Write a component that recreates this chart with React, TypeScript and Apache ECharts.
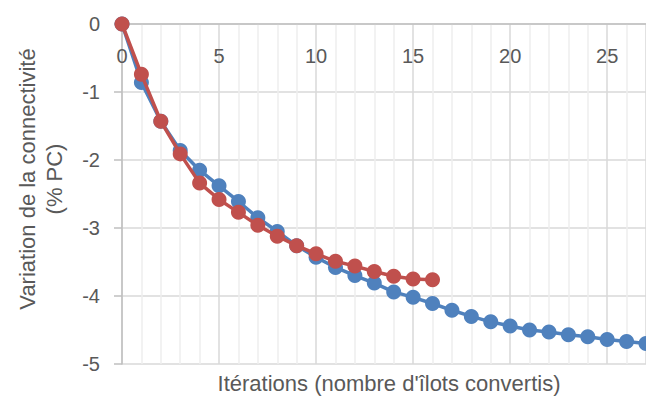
import React, { useEffect, useRef } from "react";
import * as echarts from "echarts";

const iterations = Array.from({ length: 28 }, (_, i) => i);
const seriesBlue = [
  0, -0.86, -1.43, -1.86, -2.15, -2.38, -2.61, -2.85, -3.05, -3.26,
  -3.43, -3.58, -3.7, -3.81, -3.94, -4.02, -4.11, -4.21, -4.3, -4.38,
  -4.44, -4.5, -4.53, -4.57, -4.6, -4.64, -4.67, -4.7,
];
const seriesRed = [
  0, -0.74, -1.43, -1.91, -2.34, -2.58, -2.77, -2.96, -3.12, -3.26,
  -3.38, -3.49, -3.56, -3.64, -3.71, -3.75, -3.76,
];
const xTitle = "Itérations (nombre d'îlots convertis)";
const yTitle = "Variation de la connectivité\n(% PC)";

const FONT = "'Liberation Sans', Arial, sans-serif";
const GREY = "#595959";

export default function App() {
  const ref = useRef<HTMLDivElement>(null);
  useEffect(() => {
    document.body.style.margin = "0";
    const chart = echarts.init(ref.current!, null, { renderer: "svg" });
    const toPairs = (arr: number[]) => arr.map((v, i) => [iterations[i], v]);
    chart.setOption({
      animation: false,
      grid: { left: 122, right: -5, top: 24, bottom: 36, containLabel: false },
      xAxis: {
        type: "value",
        position: "top",
        min: 0,
        max: 27,
        interval: 5,
        axisLine: { onZero: false, lineStyle: { color: "#bfbfbf", width: 1.5 } },
        axisTick: { show: false },
        axisLabel: {
          inside: true,
          color: GREY,
          fontFamily: FONT,
          fontSize: 20,
          margin: 22,
          showMaxLabel: false,
        },
        splitLine: { show: true, lineStyle: { color: "#d9d9d9", width: 1.5 } },
        minorTick: { show: false, splitNumber: 5 },
        minorSplitLine: { show: true, lineStyle: { color: "#eeeeee", width: 1.5 } },
      },
      yAxis: {
        type: "value",
        min: -5,
        max: 0,
        interval: 1,
        axisLine: { show: true, lineStyle: { color: "#bfbfbf", width: 1.5 } },
        axisTick: { show: true, length: 8, lineStyle: { color: "#bfbfbf", width: 1.5 } },
        axisLabel: { color: GREY, fontFamily: FONT, fontSize: 20, margin: 22 },
        splitLine: { show: true, lineStyle: { color: "#d9d9d9", width: 1.5 } },
      },
      graphic: [
        {
          type: "text",
          x: 389,
          y: 383,
          style: {
            text: xTitle,
            fill: GREY,
            font: `22px ${FONT}`,
            align: "center",
            verticalAlign: "middle",
          },
        },
        {
          type: "text",
          x: 41,
          y: 179,
          rotation: Math.PI / 2,
          style: {
            text: yTitle,
            fill: GREY,
            font: `22px ${FONT}`,
            align: "center",
            verticalAlign: "middle",
            lineHeight: 27,
          },
        },
      ],
      series: [
        {
          type: "line",
          data: toPairs(seriesBlue),
          symbol: "circle",
          symbolSize: 15,
          itemStyle: { color: "#4f81bd" },
          lineStyle: { color: "#4f81bd", width: 3.5 },
          clip: false,
          z: 2,
        },
        {
          type: "line",
          data: toPairs(seriesRed),
          symbol: "circle",
          symbolSize: 15,
          itemStyle: { color: "#c0504d" },
          lineStyle: { color: "#c0504d", width: 3.5 },
          clip: false,
          z: 3,
        },
      ],
    });
    return () => chart.dispose();
  }, []);
  return (
    <div
      ref={ref}
      style={{ position: "absolute", left: 0, top: 0, width: 646, height: 400 }}
    />
  );
}
